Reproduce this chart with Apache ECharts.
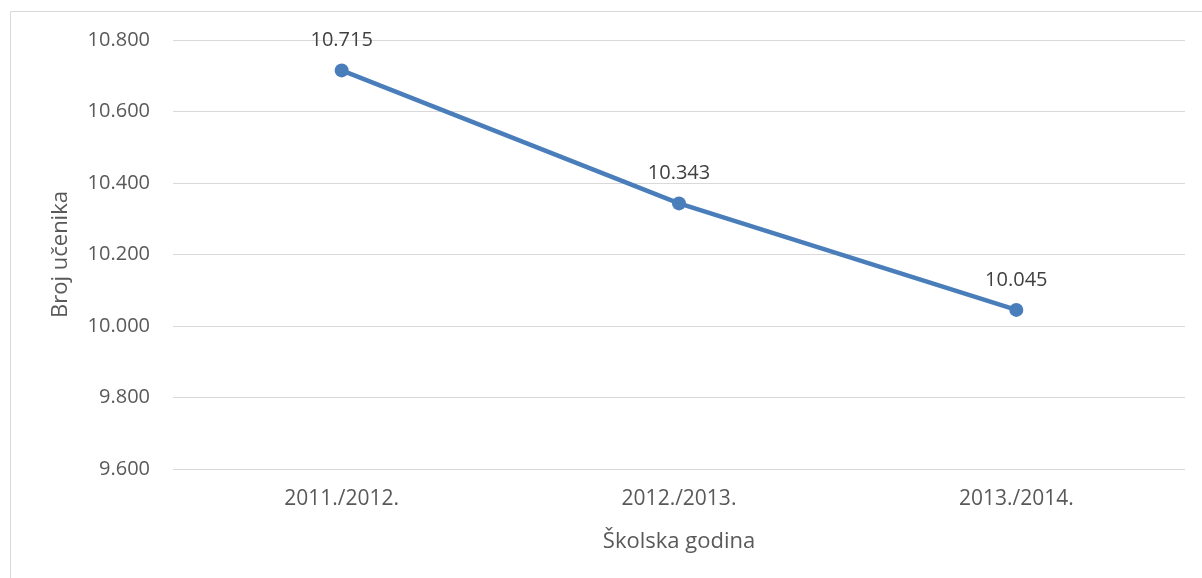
<!DOCTYPE html>
<html>
<head>
<meta charset="utf-8">
<script src="https://cdn.jsdelivr.net/npm/echarts@6/dist/echarts.min.js"></script>
<style>
  html, body { margin: 0; padding: 0; background: #fff; }
  #chart { width: 1202px; height: 578px; }
</style>
</head>
<body>
<div id="chart"></div>
<script>
  var categories = ['2011./2012.', '2012./2013.', '2013./2014.'];
  var students = [10715, 10343, 10045];

  // thousands with a dot, like the original
  function fmt(v) {
    return String(v).replace(/\B(?=(\d{3})+(?!\d))/g, '.');
  }

  var chart = echarts.init(document.getElementById('chart'));
  var textColor = '#595959';
  var font = '"Open Sans", "DejaVu Sans", sans-serif';

  chart.setOption({
    animation: false,
    graphic: [{
      type: 'rect',
      shape: { x: 10.5, y: 11.5, width: 1200, height: 600 },
      style: { fill: null, stroke: '#d9d9d9', lineWidth: 1 },
      silent: true
    }],
    grid: { left: 173, right: 17, top: 40, bottom: 109 },
    xAxis: {
      type: 'category',
      data: categories,
      name: 'Školska godina',
      nameLocation: 'middle',
      nameGap: 62,
      nameTextStyle: { color: textColor, fontSize: 22, fontFamily: font },
      axisLine: { show: false },
      axisTick: { show: false },
      axisLabel: { color: textColor, fontSize: 21, fontFamily: font, margin: 20 }
    },
    yAxis: {
      type: 'value',
      min: 9600,
      max: 10800,
      interval: 200,
      name: 'Broj učenika',
      nameLocation: 'middle',
      nameGap: 101,
      nameTextStyle: { color: textColor, fontSize: 22, fontFamily: font },
      axisLine: { show: false },
      axisTick: { show: false },
      splitLine: { lineStyle: { color: '#d9d9d9', width: 1 } },
      axisLabel: {
        color: textColor, fontSize: 20, fontFamily: font, margin: 23,
        formatter: function (v) { return fmt(v); }
      }
    },
    series: [{
      type: 'line',
      data: students,
      symbol: 'circle',
      symbolSize: 14,
      lineStyle: { color: '#4a7ebb', width: 4.5 },
      itemStyle: { color: '#4a7ebb' },
      label: {
        show: true,
        position: 'top',
        distance: 13,
        color: '#404040',
        fontSize: 20,
        fontFamily: font,
        formatter: function (p) { return fmt(p.value); }
      }
    }]
  });
</script>
</body>
</html>
